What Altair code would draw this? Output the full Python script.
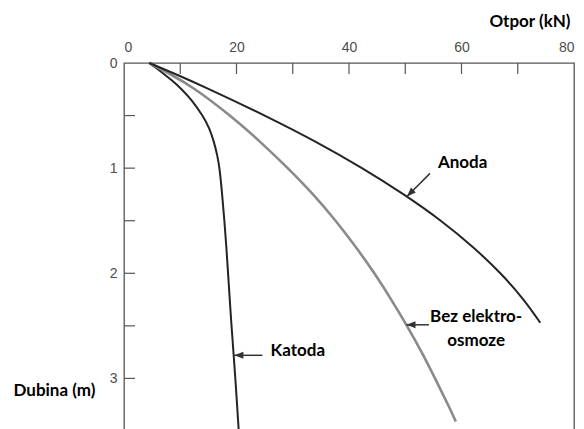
import altair as alt
import pandas as pd

# ---- data (depth in m, resistance in kN) ----
katoda_depth = [0, 0.05, 0.1, 0.16, 0.25, 0.35, 0.5, 0.62, 0.75, 0.88, 1.0, 1.25, 1.5, 1.75, 2.0, 2.5, 2.78, 3.0, 3.5]
katoda_kn = [4.5, 5.8, 7.0, 8.4, 10.3, 12.0, 14.0, 15.2, 16.0, 16.6, 17.0, 17.45, 17.85, 18.2, 18.5, 19.1, 19.5, 19.8, 20.4]

bez_depth = [0, 0.1, 0.25, 0.5, 0.75, 1.0, 1.25, 1.5, 1.75, 2.0, 2.25, 2.5, 2.75, 3.0, 3.25, 3.41]
bez_kn = [4.5, 8.0, 12.6, 18.8, 24.2, 29.1, 33.6, 37.6, 41.2, 44.5, 47.5, 50.3, 52.9, 55.3, 57.6, 59.0]

anoda_depth = [0, 0.1, 0.25, 0.5, 0.75, 1.0, 1.25, 1.5, 1.75, 2.0, 2.25, 2.47]
anoda_kn = [4.5, 8.9, 15.2, 25.0, 34.1, 42.3, 49.7, 56.3, 62.0, 66.9, 71.0, 74.0]

x_label_values = [0, 20, 40, 60, 80]
y_label_values = [0, 1, 2, 3]
x_minor_ticks = [10, 20, 30, 40, 50, 60, 70]
y_minor_ticks = [0.5, 1.0, 1.5, 2.0, 2.5, 3.0]

note_text = ["Anoda", "Bez elektro-", "osmoze", "Katoda"]
note_kn = [60.2, 62.6, 62.6, 30.9]
note_depth = [0.95, 2.42, 2.64, 2.74]

arrow_tail_kn = [54.4, 54.2, 24.6]
arrow_tail_depth = [1.05, 2.49, 2.78]
arrow_tip_kn = [50.3, 50.2, 19.6]
arrow_tip_depth = [1.27, 2.49, 2.78]
arrow_angle = [225, 270, 270]

# ---- scales / axes ----
xs = alt.Scale(domain=[0, 80], nice=False, zero=False)
ys = alt.Scale(domain=[0, 3.5], nice=False, zero=False, reverse=True)

LABEL_FONT = "Liberation Sans"
TITLE_FONT = "Lato"

x_axis = alt.Axis(
    orient="top", values=x_label_values, ticks=False, domain=False, grid=False,
    labelPadding=9, labelFont=LABEL_FONT, labelFontSize=14, labelColor="#4d4d4d",
    title="Otpor (kN)", titleFont=TITLE_FONT, titleFontSize=17, titleFontWeight="bold",
    titleColor="#000000", titleX=446, titleY=-42, titleAlign="right", titleBaseline="middle",
)
y_axis = alt.Axis(
    values=y_label_values, ticks=False, domain=False, grid=False, labelFlush=False,
    labelPadding=7, labelFont=LABEL_FONT, labelFontSize=14, labelColor="#4d4d4d",
    title="Dubina (m)", titleFont=TITLE_FONT, titleFontSize=17, titleFontWeight="bold",
    titleColor="#000000", titleAngle=0, titleX=-111, titleY=327, titleAlign="left",
    titleBaseline="middle",
)


def X(field):
    return alt.X(field, type="quantitative", scale=xs, axis=x_axis)


def Y(field):
    return alt.Y(field, type="quantitative", scale=ys, axis=y_axis)


def series(depth, kn):
    return pd.DataFrame({"d": depth, "kn": kn, "o": list(range(len(depth)))})


kat = alt.Chart(series(katoda_depth, katoda_kn)).mark_line(
    color="#242424", strokeWidth=2, interpolate="basis"
).encode(x=X("kn"), y=Y("d"), order="o:Q")

bez = alt.Chart(series(bez_depth, bez_kn)).mark_line(
    color="#8a8a8a", strokeWidth=2.6, interpolate="natural"
).encode(x=X("kn"), y=Y("d"), order="o:Q")

ano = alt.Chart(series(anoda_depth, anoda_kn)).mark_line(
    color="#242424", strokeWidth=2, interpolate="natural"
).encode(x=X("kn"), y=Y("d"), order="o:Q")

xt = alt.Chart(pd.DataFrame({"t": x_minor_ticks})).mark_rule(
    color="#555555", strokeWidth=1.2
).encode(x=X("t"), y=alt.value(0), y2=alt.value(11))

yt = alt.Chart(pd.DataFrame({"t": y_minor_ticks})).mark_rule(
    color="#555555", strokeWidth=1.2
).encode(y=Y("t"), x=alt.value(0), x2=alt.value(11))

arrows_df = pd.DataFrame({
    "tx": arrow_tail_kn, "ty": arrow_tail_depth,
    "hx": arrow_tip_kn, "hy": arrow_tip_depth, "ang": arrow_angle,
})

shafts = alt.Chart(arrows_df).mark_rule(color="#333333", strokeWidth=1.5).encode(
    x=X("tx"), y=Y("ty"), x2="hx", y2="hy"
)

heads = alt.Chart(arrows_df).mark_point(
    shape="M0,0L1,2.6L-1,2.6Z", filled=True, color="#333333", opacity=1, size=49
).encode(x=X("hx"), y=Y("hy"), angle=alt.Angle("ang:Q", scale=None))

notes = alt.Chart(pd.DataFrame({"t": note_text, "x": note_kn, "y": note_depth})).mark_text(
    font=TITLE_FONT, fontSize=17, fontWeight="bold", color="#000000",
    align="center", baseline="middle"
).encode(x=X("x"), y=Y("y"), text="t:N")

chart = alt.layer(xt, yt, kat, bez, ano, shafts, heads, notes).properties(
    width=450, height=368,
    padding={"left": 116, "top": 55, "right": 2, "bottom": 0},
    autosize=alt.AutoSizeParams(type="none"),
    background="white",
).configure_view(stroke="#555555", strokeWidth=1.3)

chart.save("out.html", embed_options={"renderer": "svg", "actions": False})
